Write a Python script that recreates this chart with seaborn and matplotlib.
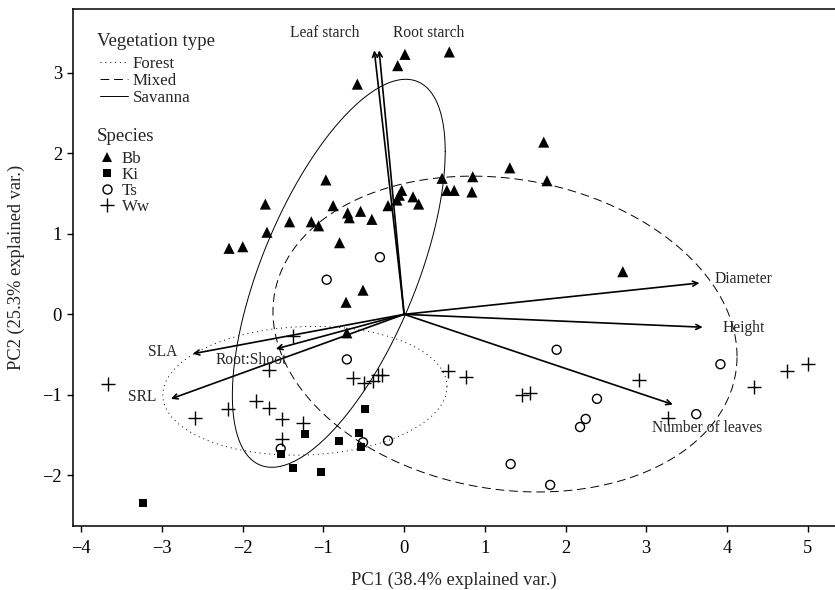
import numpy as np
import pandas as pd
import matplotlib
matplotlib.use("Agg")
import matplotlib.pyplot as plt
from matplotlib.lines import Line2D
import seaborn as sns

# ---------------- data ----------------
bb_pc1 = [0.01, 0.56, -0.08, -0.58, -0.97, -1.72, -0.88, -0.70, -0.68, -0.54, -0.40, -0.20,
          -0.09, -0.06, -0.03, 0.11, 0.18, 0.47, 0.53, 0.62, 0.85, 0.84, 1.73, 1.31, 1.77,
          2.71, -2.17, -2.00, -1.70, -1.42, -1.15, -1.06, -0.80, -0.51, -0.72, -0.71]
bb_pc2 = [3.23, 3.26, 3.09, 2.86, 1.67, 1.37, 1.35, 1.26, 1.20, 1.28, 1.18, 1.35,
          1.42, 1.48, 1.54, 1.46, 1.37, 1.69, 1.54, 1.54, 1.71, 1.52, 2.14, 1.82, 1.66,
          0.53, 0.82, 0.84, 1.02, 1.15, 1.15, 1.10, 0.89, 0.30, 0.15, -0.23]
ki_pc1 = [-0.49, -1.23, -0.56, -0.81, -0.54, -1.53, -1.38, -1.03, -3.24]
ki_pc2 = [-1.18, -1.49, -1.47, -1.57, -1.65, -1.74, -1.91, -1.96, -2.34]
ts_pc1 = [-0.30, -0.96, -0.71, -0.51, -0.20, -1.53, 1.89, 3.92, 2.39, 2.25, 2.18, 3.62, 1.32, 1.81]
ts_pc2 = [0.71, 0.43, -0.56, -1.59, -1.57, -1.67, -0.44, -0.62, -1.05, -1.30, -1.40, -1.24, -1.86, -2.12]
ww_pc1 = [-1.38, -3.67, -1.68, -1.84, -1.68, -2.18, -2.59, -1.51, -1.25, -1.51, -0.63, -0.50,
          -0.39, -0.32, -0.28, 0.54, 0.77, 1.46, 1.56, 2.91, 3.27, 4.34, 4.75, 5.01]
ww_pc2 = [-0.27, -0.87, -0.69, -1.08, -1.16, -1.18, -1.29, -1.30, -1.35, -1.55, -0.79, -0.85,
          -0.83, -0.75, -0.76, -0.70, -0.78, -1.00, -0.98, -0.82, -1.29, -0.90, -0.70, -0.62]

species = ["Bb", "Ki", "Ts", "Ww"]

var_names = ["Leaf starch", "Root starch", "Diameter", "Height", "Number of leaves",
             "SLA", "SRL", "Root:Shoot"]
load_pc1 = [-0.37, -0.31, 3.66, 3.70, 3.33, -2.62, -2.89, -1.59]
load_pc2 = [3.28, 3.28, 0.39, -0.16, -1.12, -0.49, -1.05, -0.43]

veg_types = ["Forest", "Mixed", "Savanna"]
ell_cx = [-1.23, 1.25, -0.81]
ell_cy = [-0.95, -0.245, 0.51]
ell_sxx = [3.10, 8.27, 1.74]
ell_syy = [0.64, 3.85, 5.81]
ell_sxy = [0.09, -0.80, 2.00]

# label anchor positions (layout)
lab_x = [-0.99, 0.31, 4.21, 4.21, 3.76, -2.99, -3.25, -1.90]
lab_y = [3.49, 3.49, 0.44, -0.17, -1.41, -0.47, -1.03, -0.57]

# ---------------- style ----------------
sns.set_style("ticks")
plt.rcParams["font.family"] = ["Liberation Serif", "DejaVu Serif"]
plt.rcParams["axes.unicode_minus"] = True

fig = plt.figure(figsize=(8.35, 5.9), dpi=100)
ax = fig.add_axes([73 / 835, 1 - 526 / 590, (835 - 73) / 835, (526 - 8.5) / 590])

df = pd.concat([
    pd.DataFrame({"PC1": bb_pc1, "PC2": bb_pc2, "Species": "Bb"}),
    pd.DataFrame({"PC1": ki_pc1, "PC2": ki_pc2, "Species": "Ki"}),
    pd.DataFrame({"PC1": ts_pc1, "PC2": ts_pc2, "Species": "Ts"}),
    pd.DataFrame({"PC1": ww_pc1, "PC2": ww_pc2, "Species": "Ww"}),
], ignore_index=True)

mstyle = {
    "Bb": dict(marker="^", s=64, color="black", edgecolor="none"),
    "Ki": dict(marker="s", s=34, color="black", edgecolor="none"),
    "Ts": dict(marker="o", s=42, facecolor="none", edgecolor="black", linewidth=1.0),
    "Ww": dict(marker="+", s=95, color="black", linewidth=1.0),
}
for sp in species:
    sub = df[df["Species"] == sp]
    sns.scatterplot(data=sub, x="PC1", y="PC2", ax=ax, legend=False, zorder=3, **mstyle[sp])

# ellipses
ell_ls = {"Forest": (0, (1, 4)), "Mixed": (0, (9, 5)), "Savanna": "-"}
t = np.linspace(0, 2 * np.pi, 400)
for i, vt in enumerate(veg_types):
    S = np.array([[ell_sxx[i], ell_sxy[i]], [ell_sxy[i], ell_syy[i]]])
    L = np.linalg.cholesky(S)
    pts = L @ np.vstack([np.cos(t), np.sin(t)])
    ax.plot(ell_cx[i] + pts[0], ell_cy[i] + pts[1], color="black", lw=0.7,
            linestyle=ell_ls[vt], zorder=2)

# arrows
for i, nm in enumerate(var_names):
    ax.annotate("", xy=(load_pc1[i], load_pc2[i]), xytext=(0, 0),
                arrowprops=dict(arrowstyle="->", lw=1.2, color="black",
                                shrinkA=0, shrinkB=0, mutation_scale=9),
                zorder=4)
    ax.text(lab_x[i], lab_y[i], nm, ha="center", va="center", fontsize=11.2, zorder=5)

ax.set_xlim(-4.104, 5.34)
ax.set_ylim(-2.63, 3.80)
ax.set_xticks([-4, -3, -2, -1, 0, 1, 2, 3, 4, 5])
ax.set_yticks([-2, -1, 0, 1, 2, 3])
ax.set_xlabel("PC1 (38.4% explained var.)", fontsize=13.3, labelpad=11)
ax.set_ylabel("PC2 (25.3% explained var.)", fontsize=13.3, labelpad=12)
ax.tick_params(axis="x", pad=6)
ax.tick_params(axis="y", pad=4)
ax.tick_params(axis="both", direction="out", length=4, width=1.0, labelsize=13.3,
               color="black", labelcolor="black")
for side in ["left", "bottom", "top"]:
    ax.spines[side].set_linewidth(1.1)
    ax.spines[side].set_color("black")
ax.spines["right"].set_visible(False)

# legends (titles drawn as text, entries as legends)
def ay(py):
    return 1 - (py - 8.5) / 517.5

def axx(px):
    return (px - 73) / 762

ax.text(axx(97), ay(41.5), "Vegetation type", transform=ax.transAxes, ha="left",
        va="center", fontsize=13.6)
ax.text(axx(97), ay(136.5), "Species", transform=ax.transAxes, ha="left",
        va="center", fontsize=13.6)

veg_handles = [Line2D([0], [0], color="black", lw=0.7, linestyle=ell_ls[v]) for v in veg_types]
leg1 = ax.legend(veg_handles, veg_types, loc="upper left",
                 bbox_to_anchor=(axx(100), ay(56)), frameon=False, fontsize=12.2,
                 handlelength=1.65, handletextpad=0.3,
                 labelspacing=0.05, borderpad=0, borderaxespad=0)
ax.add_artist(leg1)
sp_handles = [
    Line2D([0], [0], marker="^", color="black", linestyle="none", markersize=7.5, markeredgewidth=0),
    Line2D([0], [0], marker="s", color="black", linestyle="none", markersize=5.6, markeredgewidth=0),
    Line2D([0], [0], marker="o", markerfacecolor="none", markeredgecolor="black", linestyle="none",
           markersize=6.5, markeredgewidth=1.0),
    Line2D([0], [0], marker="+", color="black", linestyle="none", markersize=9.5, markeredgewidth=1.0),
]
leg2 = ax.legend(sp_handles, species, loc="upper left",
                 bbox_to_anchor=(axx(99), ay(151)), frameon=False, fontsize=12.2,
                 handlelength=0.9, handletextpad=0.45,
                 labelspacing=0.0, borderpad=0, borderaxespad=0)

fig.savefig("out.png", dpi=100)
